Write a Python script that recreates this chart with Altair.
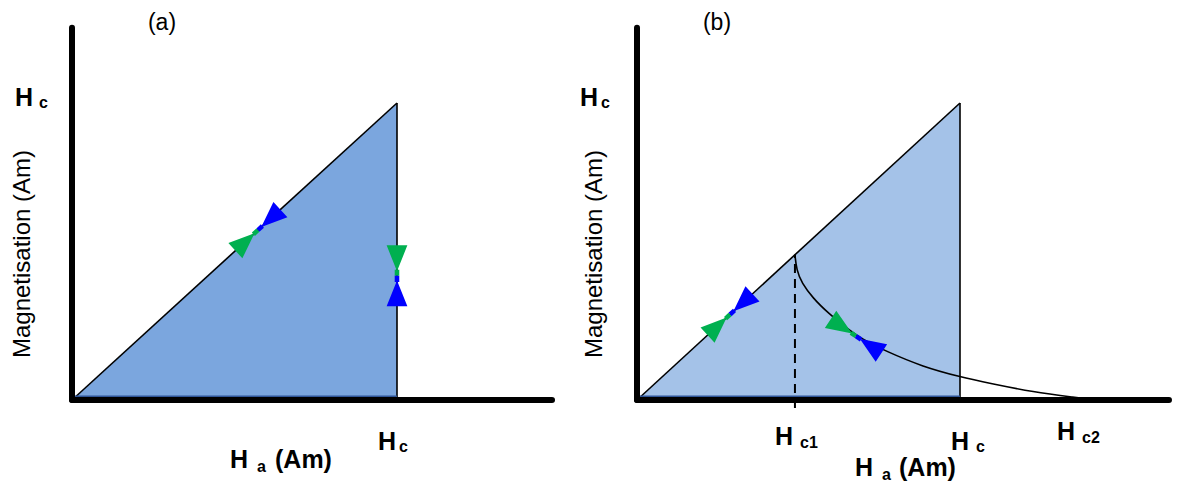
import math
import altair as alt
import pandas as pd

# ---------------------------------------------------------------------------
# Field values, in units of the thermodynamic critical field Hc
# ---------------------------------------------------------------------------
HC = 1.0      # critical field (type I) / thermodynamic field (type II)
HC1 = 0.489   # lower critical field
HC2 = 1.418   # upper critical field

# Mixed-state magnetisation of the type-II sample, from Hc1 down to Hc2
curve_h = [0.489, 0.494, 0.510, 0.545, 0.587, 0.680, 0.773, 0.885, 1.000, 1.093, 1.226, 1.362, 1.418]
curve_m = [0.489, 0.438, 0.394, 0.343, 0.297, 0.213, 0.163, 0.112, 0.078, 0.056, 0.027, 0.008, 0.000]

# Arrow pairs (joint position on the curve, colour of each head)
arrow_panel = ["a", "a", "a", "a", "b", "b", "b", "b"]
arrow_h = [0.572, 0.572, 1.000, 1.000, 0.288, 0.288, 0.678, 0.678]
arrow_m = [0.572, 0.572, 0.418, 0.418, 0.288, 0.288, 0.215, 0.215]
arrow_col = ["#0000FF", "#00B050", "#00B050", "#0000FF",
             "#0000FF", "#00B050", "#00B050", "#0000FF"]

# ---------------------------------------------------------------------------
# Layout of the two panels (pixels)
# ---------------------------------------------------------------------------
HEIGHT = 482
Y0, UY = 400, 297                 # y pixel of M = 0 and pixels per unit
PANEL = {
    "a": dict(offset=0, width=580, x0=72, ux=325, x_end=1.477, fill="#7BA6DE"),
    "b": dict(offset=580, width=597, x0=57, ux=323, x_end=1.647, fill="#A4C2E8"),
}
Y_TOP = 1.253
AXIS_COLOR = "#000000"
EDGE_NAVY = "#2F5597"
FONT = "Liberation Sans"

# Arrow head: short stem at the joint, triangle opening away from it
ARROW_PATH = "M0,-0.075 L0.2,-0.075 L0.2,0.075 L0,0.075 Z M0.15,0 L1,-0.34 L1,0.34 Z"
ARROW_SIZE = 3721


def diag_angle(key):
    g = PANEL[key]
    return math.degrees(math.atan2(UY, g["ux"]))


def curve_angle():
    g = PANEL["b"]
    dx = (curve_h[6] - curve_h[4]) * g["ux"]
    dy = (curve_m[4] - curve_m[6]) * UY
    return math.degrees(math.atan2(dy, dx))


da, db, dc = diag_angle("a"), diag_angle("b"), curve_angle()
arrow_angle = [360 - da, 180 - da, 270, 90,
               360 - db, 180 - db, 180 + dc, dc]

arrows = pd.DataFrame(dict(panel=arrow_panel, h=arrow_h, m=arrow_m,
                           col=arrow_col, ang=arrow_angle))

# Text pieces: panel, left/centre x (px), baseline y (px), text, size, bold, angle, anchor
labels = [
    ("a", 162, 30, "(a)", 23, False, 0, "center"),
    ("a", 15, 106, "H", 25, True, 0, "left"),
    ("a", 39, 108, "c", 16, True, 0, "left"),
    ("a", 30, 254, "Magnetisation (Am)", 24, False, 270, "center"),
    ("a", 378, 450, "H", 25, True, 0, "left"),
    ("a", 399, 452, "c", 16, True, 0, "left"),
    ("a", 230, 468, "H", 25, True, 0, "left"),
    ("a", 257, 472, "a", 16, True, 0, "left"),
    ("a", 275, 468, "(Am)", 25, True, 0, "left"),
    ("b", 717, 30, "(b)", 23, False, 0, "center"),
    ("b", 580, 106, "H", 25, True, 0, "left"),
    ("b", 601, 108, "c", 16, True, 0, "left"),
    ("b", 602, 254, "Magnetisation (Am)", 24, False, 270, "center"),
    ("b", 775, 445, "H", 25, True, 0, "left"),
    ("b", 800, 448, "c1", 16, True, 0, "left"),
    ("b", 951, 450, "H", 25, True, 0, "left"),
    ("b", 976, 452, "c", 16, True, 0, "left"),
    ("b", 1057, 440, "H", 25, True, 0, "left"),
    ("b", 1082, 443, "c2", 16, True, 0, "left"),
    ("b", 855, 476, "H", 25, True, 0, "left"),
    ("b", 882, 480, "a", 16, True, 0, "left"),
    ("b", 899, 476, "(Am)", 25, True, 0, "left"),
]


def to_data(key, px, py):
    g = PANEL[key]
    return (px - g["offset"] - g["x0"]) / g["ux"], (Y0 - py) / UY


def panel_chart(key):
    g = PANEL[key]
    xs = alt.Scale(domain=[-g["x0"] / g["ux"], (g["width"] - g["x0"]) / g["ux"]],
                   nice=False, zero=False)
    ys = alt.Scale(domain=[-(HEIGHT - Y0) / UY, Y0 / UY], nice=False, zero=False)

    def X(f):
        return alt.X(f, type="quantitative", scale=xs, axis=None)

    def Y(f):
        return alt.Y(f, type="quantitative", scale=ys, axis=None)

    layers = []

    # Meissner region: M = Ha up to Hc
    tri = pd.DataFrame(dict(h=[0.0, HC], m=[0.0, HC], m0=[0.0, 0.0]))
    layers.append(alt.Chart(tri).mark_area(color=g["fill"], opacity=1, orient="vertical")
                  .encode(x=X("h"), y=Y("m"), y2=alt.Y2("m0")))
    layers.append(alt.Chart(tri).mark_line(color="black", strokeWidth=1.6)
                  .encode(x=X("h"), y=Y("m")))
    edge = pd.DataFrame(dict(h=[HC], m=[0.0], m2=[HC]))
    layers.append(alt.Chart(edge).mark_rule(color="black", strokeWidth=1.6)
                  .encode(x=X("h"), y=Y("m"), y2=alt.Y2("m2")))
    base = pd.DataFrame(dict(h=[0.0], h2=[HC], m=[0.0]))
    layers.append(alt.Chart(base).mark_rule(color=EDGE_NAVY, strokeWidth=2, yOffset=-3.5)
                  .encode(x=X("h"), x2=alt.X2("h2"), y=Y("m")))

    if key == "b":
        cur = pd.DataFrame(dict(h=curve_h, m=curve_m))
        layers.append(alt.Chart(cur).mark_line(color="black", strokeWidth=1.6,
                                               interpolate="basis")
                      .encode(x=X("h"), y=Y("m")))
        dash = pd.DataFrame(dict(h=[HC1], m=[-0.027], m2=[HC1]))
        layers.append(alt.Chart(dash).mark_rule(color="black", strokeWidth=2,
                                                strokeDash=[9, 6])
                      .encode(x=X("h"), y=Y("m"), y2=alt.Y2("m2")))

    # Thick axes
    vax = pd.DataFrame(dict(h=[0.0], m=[0.0], m2=[Y_TOP]))
    hax = pd.DataFrame(dict(h=[0.0], h2=[g["x_end"]], m=[0.0]))
    layers.append(alt.Chart(vax).mark_rule(color=AXIS_COLOR, strokeWidth=6, strokeCap="round")
                  .encode(x=X("h"), y=Y("m"), y2=alt.Y2("m2")))
    layers.append(alt.Chart(hax).mark_rule(color=AXIS_COLOR, strokeWidth=6, strokeCap="round")
                  .encode(x=X("h"), x2=alt.X2("h2"), y=Y("m")))

    # Arrow heads
    arr = arrows[arrows["panel"] == key]
    layers.append(alt.Chart(arr).mark_point(shape=ARROW_PATH, filled=True, size=ARROW_SIZE,
                                            opacity=1, strokeWidth=0)
                  .encode(x=X("h"), y=Y("m"),
                          color=alt.Color("col:N", scale=None),
                          angle=alt.Angle("ang:Q", scale=None)))

    # Labels
    rows = []
    for p, px, py, txt, size, bold, ang, anchor in labels:
        if p != key:
            continue
        h, m = to_data(key, px, py)
        rows.append(dict(h=h, m=m, text=txt, size=size, bold=bold, ang=ang, anchor=anchor))
    lab = pd.DataFrame(rows)
    for bold in (True, False):
        for anchor in ("left", "center"):
            sub = lab[(lab["bold"] == bold) & (lab["anchor"] == anchor)]
            if sub.empty:
                continue
            layers.append(alt.Chart(sub).mark_text(font=FONT,
                                                   fontWeight="bold" if bold else "normal",
                                                   align=anchor, baseline="alphabetic",
                                                   color="black")
                          .encode(x=X("h"), y=Y("m"), text="text:N",
                                  size=alt.Size("size:Q", scale=None),
                                  angle=alt.Angle("ang:Q", scale=None)))

    return alt.layer(*layers).properties(width=g["width"], height=HEIGHT)


chart = (alt.hconcat(panel_chart("a"), panel_chart("b"), spacing=0)
         .properties(padding=0, background="white")
         .configure_view(stroke=None))

chart.save("out.html", embed_options={"renderer": "svg", "actions": False})
